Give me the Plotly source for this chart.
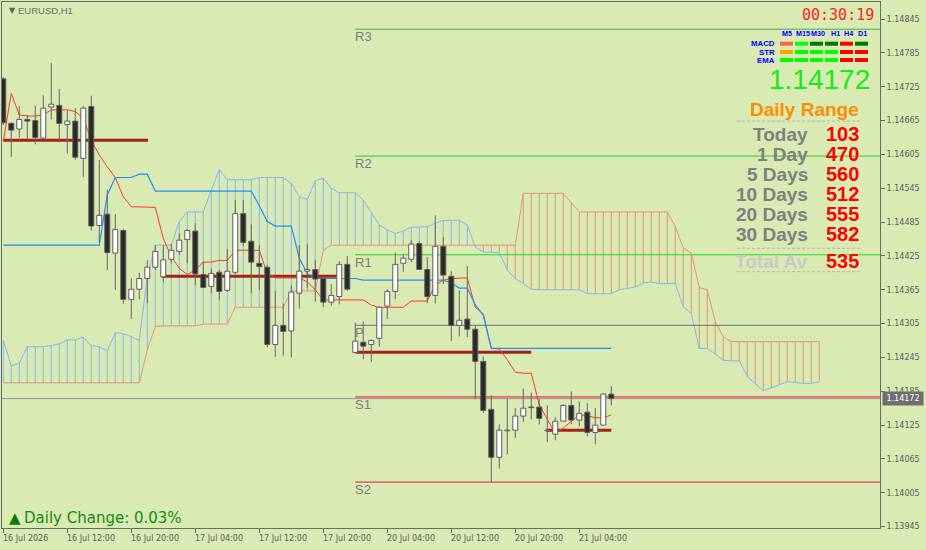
import plotly.graph_objects as go

# ---------------- data ----------------
symbol = "EURUSD,H1"
time_labels = ["16 Jul 2026", "16 Jul 12:00", "16 Jul 20:00", "17 Jul 04:00", "17 Jul 12:00",
               "17 Jul 20:00", "20 Jul 04:00", "20 Jul 12:00", "20 Jul 20:00", "21 Jul 04:00"]
label_bars = [0, 8, 16, 24, 32, 40, 48, 56, 64, 72]

open_ = [1.14739, 1.14660, 1.14650, 1.14667, 1.14665, 1.14634, 1.14689, 1.14692, 1.14658, 1.14664,
         1.14598, 1.14690, 1.14479, 1.14499, 1.14430, 1.14470, 1.14348, 1.14366, 1.14385, 1.14405,
         1.14388, 1.14419, 1.14433, 1.14454, 1.14469, 1.14392, 1.14371, 1.14396, 1.14364, 1.14396,
         1.14500, 1.14451, 1.14412, 1.14405, 1.14268, 1.14302, 1.14292, 1.14359, 1.14398, 1.14401,
         1.14385, 1.14343, 1.14353, 1.14410, 1.14254, 1.14272, 1.14268, 1.14279, 1.14336, 1.14362,
         1.14412, 1.14419, 1.14447, 1.14401, 1.14355, 1.14442, 1.14389, 1.14302, 1.14313, 1.14295,
         1.14238, 1.14153, 1.14068, 1.14115, 1.14116, 1.14141, 1.14157, 1.14157, 1.14115, 1.14109,
         1.14132, 1.14160, 1.14134, 1.14148, 1.14112, 1.14125, 1.14180]
high = [1.14742, 1.14662, 1.14691, 1.14675, 1.14691, 1.14710, 1.14767, 1.14721, 1.14683, 1.14687,
        1.14691, 1.14709, 1.14595, 1.14542, 1.14499, 1.14473, 1.14385, 1.14395, 1.14418, 1.14444,
        1.14444, 1.14447, 1.14465, 1.14473, 1.14483, 1.14415, 1.14403, 1.14400, 1.14437, 1.14524,
        1.14524, 1.14481, 1.14444, 1.14409, 1.14363, 1.14340, 1.14372, 1.14444, 1.14446, 1.14418,
        1.14388, 1.14375, 1.14416, 1.14425, 1.14307, 1.14309, 1.14277, 1.14336, 1.14366, 1.14431,
        1.14428, 1.14453, 1.14451, 1.14423, 1.14497, 1.14458, 1.14398, 1.14364, 1.14407, 1.14301,
        1.14247, 1.14178, 1.14126, 1.14172, 1.14155, 1.14190, 1.14183, 1.14171, 1.14160, 1.14139,
        1.14162, 1.14185, 1.14167, 1.14164, 1.14155, 1.14181, 1.14194]
low = [1.14657, 1.14601, 1.14635, 1.14632, 1.14623, 1.14632, 1.14667, 1.14626, 1.14607, 1.14595,
       1.14565, 1.14470, 1.14448, 1.14400, 1.14365, 1.14340, 1.14313, 1.14348, 1.14341, 1.14400,
       1.14379, 1.14412, 1.14427, 1.14412, 1.14373, 1.14368, 1.14359, 1.14347, 1.14361, 1.14393,
       1.14442, 1.14359, 1.14365, 1.14263, 1.14246, 1.14248, 1.14245, 1.14332, 1.14368, 1.14344,
       1.14334, 1.14337, 1.14339, 1.14363, 1.14253, 1.14242, 1.14237, 1.14264, 1.14313, 1.14348,
       1.14397, 1.14414, 1.14400, 1.14341, 1.14341, 1.14375, 1.14274, 1.14282, 1.14281, 1.14171,
       1.14146, 1.14024, 1.14048, 1.14073, 1.14102, 1.14131, 1.14135, 1.14126, 1.14095, 1.14098,
       1.14132, 1.14127, 1.14123, 1.14105, 1.14091, 1.14125, 1.14160]
close = [1.14661, 1.14648, 1.14667, 1.14664, 1.14635, 1.14687, 1.14694, 1.14660, 1.14664, 1.14600,
         1.14687, 1.14478, 1.14497, 1.14431, 1.14472, 1.14348, 1.14366, 1.14385, 1.14405, 1.14433,
         1.14418, 1.14435, 1.14453, 1.14470, 1.14393, 1.14369, 1.14394, 1.14362, 1.14398, 1.14500,
         1.14449, 1.14414, 1.14406, 1.14268, 1.14302, 1.14291, 1.14361, 1.14398, 1.14401, 1.14384,
         1.14343, 1.14355, 1.14410, 1.14366, 1.14274, 1.14265, 1.14275, 1.14334, 1.14362, 1.14410,
         1.14421, 1.14446, 1.14401, 1.14353, 1.14442, 1.14391, 1.14302, 1.14311, 1.14295, 1.14238,
         1.14151, 1.14068, 1.14116, 1.14116, 1.14141, 1.14155, 1.14156, 1.14137, 1.14116, 1.14132,
         1.14160, 1.14134, 1.14146, 1.14112, 1.14125, 1.14180, 1.14172]

tenkan = [1.14628, 1.14713, 1.14675, 1.14673, 1.14673, 1.14675, 1.14684, 1.14684, 1.14684, 1.14681,
          1.14669, 1.14630, 1.14604, 1.14583, 1.14564, 1.14530, 1.14512, 1.14512, 1.14512, 1.14511,
          1.14456, 1.14424, 1.14403, 1.14392, 1.14400, 1.14414, 1.14414, 1.14417, 1.14417, 1.14435,
          1.14435, 1.14435, 1.14435, 1.14394, 1.14386, 1.14386, 1.14386, 1.14386, 1.14379, 1.14365,
          1.14347, 1.14347, 1.14347, 1.14347, 1.14347, 1.14347, 1.14338, 1.14333, 1.14334, 1.14334,
          1.14334, 1.14345, 1.14345, 1.14345, 1.14373, 1.14382, 1.14385, 1.14385, 1.14386, 1.14334,
          1.14322, 1.14261, 1.14260, 1.14241, 1.14219, 1.14217, 1.14217, 1.14161, 1.14135, 1.14110,
          1.14120, 1.14131, 1.14143, 1.14142, 1.14138, 1.14138, 1.14143]
kijun = [1.14444] * 13 + [1.14533, 1.14564, 1.14564, 1.14564, 1.14570, 1.14570] + [1.14540] * 13 + \
        [1.14514, 1.14486, 1.14478, 1.14478, 1.14478, 1.14421, 1.14394] + [1.14385] * 6 + \
        [1.14382] * 11 + [1.14377, 1.14368, 1.14368, 1.14338, 1.14320] + [1.14261] * 16

span_a = [1.14276, 1.14230, 1.14235, 1.14264, 1.14264, 1.14264, 1.14266, 1.14269, 1.14276, 1.14276,
          1.14281, 1.14266, 1.14264, 1.14256, 1.14289, 1.14287, 1.14282, 1.14275, 1.14388, 1.14444,
          1.14444, 1.14444, 1.14486, 1.14503, 1.14503, 1.14503, 1.14542, 1.14578, 1.14560, 1.14560,
          1.14560, 1.14560, 1.14564, 1.14564, 1.14564, 1.14564, 1.14554, 1.14530, 1.14525, 1.14558,
          1.14563, 1.14545, 1.14537, 1.14537, 1.14537, 1.14524, 1.14501, 1.14480, 1.14471, 1.14465,
          1.14469, 1.14476, 1.14476, 1.14477, 1.14483, 1.14488, 1.14488, 1.14488, 1.14480, 1.14441,
          1.14432, 1.14432, 1.14431, 1.14400, 1.14385, 1.14376, 1.14366, 1.14365, 1.14365, 1.14365,
          1.14365, 1.14365, 1.14365, 1.14358, 1.14358, 1.14358, 1.14358, 1.14365, 1.14368, 1.14370,
          1.14377, 1.14379, 1.14376, 1.14376, 1.14376, 1.14335, 1.14323, 1.14261, 1.14261, 1.14251,
          1.14240, 1.14239, 1.14239, 1.14211, 1.14198, 1.14186, 1.14191, 1.14196, 1.14202, 1.14201,
          1.14199, 1.14199, 1.14202]
span_b = [1.14200] * 18 + [1.14258, 1.14300] + [1.14301] * 5 + [1.14304] * 4 + [1.14334] * 7 + \
         [1.14363] * 4 + [1.14435] + [1.14444] * 24 + [1.14536] * 6 + [1.14519] + [1.14503] * 12 + \
         [1.14477, 1.14439, 1.14430, 1.14369, 1.14365, 1.14308, 1.14282] + [1.14273] * 12

day_open = [1.14630, 1.14389, 1.14254, 1.14116]
day_open_from = [0, 19.8, 44, 67.9]
day_open_to = [18.1, 41.7, 66, 76]

pivot_names = ["R3", "R2", "R1", "P", "S1", "S2"]
pivot_levels = [1.14827, 1.14602, 1.14427, 1.14302, 1.14175, 1.14024]
pivot_from_bar = 44
current_price = 1.14172
y_ticks = [1.13945, 1.14005, 1.14065, 1.14125, 1.14185, 1.14245, 1.14305, 1.14365, 1.14425,
           1.14485, 1.14545, 1.14605, 1.14665, 1.14725, 1.14785, 1.14845]

countdown = "00:30:19"
timeframes = ["M5", "M15", "M30", "H1", "H4", "D1"]
signal_names = ["MACD", "STR", "EMA"]
signal_colors = [["#ff6347", "#00ff00", "#007800", "#007800", "#ff0000", "#007800"],
                 ["#ffa500", "#00ff00", "#00ff00", "#00ff00", "#ff0000", "#ff0000"],
                 ["#00ff00", "#00ff00", "#00ff00", "#00ff00", "#ff0000", "#ff0000"]]
range_labels = ["Today", "1 Day", "5 Days", "10 Days", "20 Days", "30 Days"]
range_values = [103, 470, 560, 512, 555, 582]
total_average = 535
daily_change_pct = 0.03

# ---------------- styling / layout constants ----------------
BG = "#d9eab3"
FRAME = "#6a6a6a"
W, H = 926, 550
PL, PR, PT, PB = 2, 880, 2, 528          # plot area in pixels
X_RANGE = [-0.16, 109.59]
Y_RANGE = [1.139426, 1.148752]
C_TENKAN = "#ff3c28"
C_KIJUN = "#1e8fff"
C_SPAN_A = "#80b9f6"
C_SPAN_B = "#e89478"
C_DAYOPEN = "#a3221c"
PIVOT_COLORS = ["#45ad4f", "#2fcb2f", "#1fdc1f", "#6e6e6e", "#ff0a0a", "#e0143c"]


def px(x):
    return (x - PL) / (PR - PL)


def py(y):
    return (PB - y) / (PB - PT)


fig = go.Figure()
n = len(open_)
bars = list(range(n))
fut = list(range(len(span_a)))

# Ichimoku cloud hatch
hx_a, hy_a, hx_b, hy_b = [], [], [], []
for i in fut:
    a, b = span_a[i], span_b[i]
    if a >= b:
        hx_a += [i, i, None]; hy_a += [b, a, None]
    else:
        hx_b += [i, i, None]; hy_b += [a, b, None]
fig.add_trace(go.Scatter(x=hx_a, y=hy_a, mode="lines", line=dict(color=C_SPAN_A, width=1), hoverinfo="skip"))
fig.add_trace(go.Scatter(x=hx_b, y=hy_b, mode="lines", line=dict(color=C_SPAN_B, width=1), hoverinfo="skip"))
fig.add_trace(go.Scatter(x=fut, y=span_a, mode="lines", line=dict(color=C_SPAN_A, width=1), hoverinfo="skip"))
fig.add_trace(go.Scatter(x=fut, y=span_b, mode="lines", line=dict(color=C_SPAN_B, width=1), hoverinfo="skip"))

# daily open segments
dx, dy = [], []
for lvl, a, b in zip(day_open, day_open_from, day_open_to):
    dx += [a, b, None]; dy += [lvl, lvl, None]
fig.add_trace(go.Scatter(x=dx, y=dy, mode="lines", line=dict(color=C_DAYOPEN, width=3), hoverinfo="skip"))

# pivot lines
for lvl, col in zip(pivot_levels, PIVOT_COLORS):
    fig.add_trace(go.Scatter(x=[pivot_from_bar, X_RANGE[1]], y=[lvl, lvl], mode="lines",
                             line=dict(color=col, width=1), hoverinfo="skip"))

# tenkan / kijun
fig.add_trace(go.Scatter(x=bars, y=tenkan, mode="lines", line=dict(color=C_TENKAN, width=1), hoverinfo="skip"))
fig.add_trace(go.Scatter(x=bars, y=kijun, mode="lines", line=dict(color=C_KIJUN, width=1.2), hoverinfo="skip"))

# candles (on an overlaying subplot so they sit on top of the indicators)
base = [min(o, c) for o, c in zip(open_, close)]
height = [max(abs(c - o), 0.000012) for o, c in zip(open_, close)]
fill = ["#ffffff" if c >= o else "#2a2a2a" for o, c in zip(open_, close)]
fig.add_trace(go.Bar(x=bars, y=height, base=base, width=0.62, xaxis="x2", yaxis="y2",
                     marker=dict(color=fill, line=dict(color="#5c5c5c", width=1)), hoverinfo="skip"))
wx, wy = [], []
for i in bars:
    top, bot = max(open_[i], close[i]), min(open_[i], close[i])
    wx += [i, i, None, i, i, None]
    wy += [high[i], top, None, bot, low[i], None]
fig.add_trace(go.Scatter(x=wx, y=wy, mode="lines", xaxis="x2", yaxis="y2",
                         line=dict(color="#666666", width=1), hoverinfo="skip"))

# ---------------- annotations ----------------
ann = []


def text(t, x, y, size, color, family="Liberation Sans", xanchor="left", bold=False, tight=False):
    d = dict(text=f"<b>{t}</b>" if bold else t, xref="paper", yref="paper", x=px(x), y=py(y),
             xanchor=xanchor, yanchor="middle", showarrow=False,
             font=dict(family=family, size=size, color=color))
    if tight:
        d.update(borderpad=0, borderwidth=0)
    ann.append(d)


# time labels
for b, t in zip(label_bars, time_labels):
    ann.append(dict(text=t, xref="x", yref="paper", x=b, y=py(538.3), xanchor="left", xshift=-2.5,
                    yanchor="middle", showarrow=False, font=dict(family="DejaVu Sans", size=8, color="#5e5e5e")))

# pivot labels
for name, lvl in zip(pivot_names, pivot_levels):
    ann.append(dict(text=name, xref="x", yref="y", x=pivot_from_bar, y=lvl, xanchor="left", xshift=-2,
                    yanchor="top", yshift=2, showarrow=False,
                    font=dict(family="Liberation Sans", size=13, color="#7d7d7d")))

# current price tag
ann.append(dict(text=f"{current_price:.5f}", xref="paper", yref="y", x=px(882), y=current_price,
                xanchor="left", yanchor="middle", showarrow=False, bgcolor="#6e6e6e", width=38, height=11,
                borderpad=1, font=dict(family="DejaVu Sans", size=8, color="#ffffff")))

# top-left symbol
text("\u25BC", 7, 10.8, 8, "#606060", "DejaVu Sans")
text(symbol, 16.3, 10.8, 9.5, "#6f6f6f", "Liberation Sans")

# countdown and signal grid
text(countdown, 876, 14.7, 15, "#ff1c1c", "DejaVu Sans Mono", "right")
col_x0 = [780 + 15 * j for j in range(len(timeframes))]
head_x = [786.7, 802.5, 818.3, 835, 848.3, 862.2]
for j, tf in enumerate(timeframes):
    text(tf, head_x[j], 33, 7.2, "#0000ff", "Liberation Sans", "center", bold=True, tight=True)
row_y = [43.7, 52, 60]
shapes = []
for r, name in enumerate(signal_names):
    text(name, 775, row_y[r], 7.8, "#0000ff", "Liberation Sans", "right", bold=True, tight=True)
    for j, col in enumerate(signal_colors[r]):
        shapes.append(dict(type="rect", xref="paper", yref="paper", x0=px(col_x0[j]), x1=px(col_x0[j] + 13),
                           y0=py(row_y[r] + 2), y1=py(row_y[r] - 2), fillcolor=col, line=dict(width=0)))

text(f"{current_price:.5f}", 872, 79.2, 28, "#11ee11", "Liberation Sans", "right")
text("Daily Range", 861, 109.2, 19, "#ff8c00", "Liberation Sans", "right", bold=True)
row_centers = [134.3, 154.3, 174.3, 194.3, 214.3, 234.3]
for lab, val, yc in zip(range_labels, range_values, row_centers):
    text(lab, 810, yc, 19, "#808080", "Liberation Sans", "right", bold=True)
    text(str(val), 861, yc, 20, "#ff0000", "Liberation Sans", "right", bold=True)
text("Total Av", 810, 261, 19, "#c9c9c9", "Liberation Sans", "right", bold=True)
text(str(total_average), 861, 261, 20, "#ff0000", "Liberation Sans", "right", bold=True)
for yy in [121, 248.3, 271.7]:
    shapes.append(dict(type="line", xref="paper", yref="paper", x0=px(737), x1=px(860), y0=py(yy), y1=py(yy),
                       line=dict(color="#b5b5b5", width=1, dash="3px,2px")))

# daily change
text("\u25B2", 7.3, 517.7, 15, "#0b7a0b", "DejaVu Sans")
text(f"Daily Change: {daily_change_pct:.2f}%", 22, 518.3, 15, "#168c16", "DejaVu Sans")

# current price line
shapes.append(dict(type="line", xref="paper", yref="y", x0=0, x1=1, y0=current_price, y1=current_price,
                   line=dict(color="#8b95aa", width=1), layer="below"))

axis_common = dict(showgrid=False, zeroline=False, fixedrange=True)
fig.update_layout(
    width=W, height=H,
    margin=dict(l=PL, r=W - PR, t=PT, b=H - PB, pad=0),
    paper_bgcolor=BG, plot_bgcolor=BG,
    showlegend=False, barmode="overlay",
    font=dict(family="DejaVu Sans", size=8, color="#5e5e5e"),
    xaxis=dict(range=X_RANGE, showline=True, linecolor=FRAME, linewidth=1, mirror=True,
               ticks="outside", ticklen=4, tickcolor=FRAME, tickvals=label_bars, showticklabels=False,
               **axis_common),
    yaxis=dict(range=Y_RANGE, side="right", showline=True, linecolor=FRAME, linewidth=1, mirror=True,
               ticks="outside", ticklen=4, tickcolor=FRAME, tickvals=y_ticks,
               ticktext=[f"{v:.5f}" for v in y_ticks],
               tickfont=dict(family="DejaVu Sans", size=8, color="#5e5e5e"), **axis_common),
    xaxis2=dict(range=X_RANGE, overlaying="x", visible=False, **axis_common),
    yaxis2=dict(range=Y_RANGE, overlaying="y", visible=False, **axis_common),
    annotations=ann, shapes=shapes,
)

fig.write_html("out.html", config={"displayModeBar": False})
